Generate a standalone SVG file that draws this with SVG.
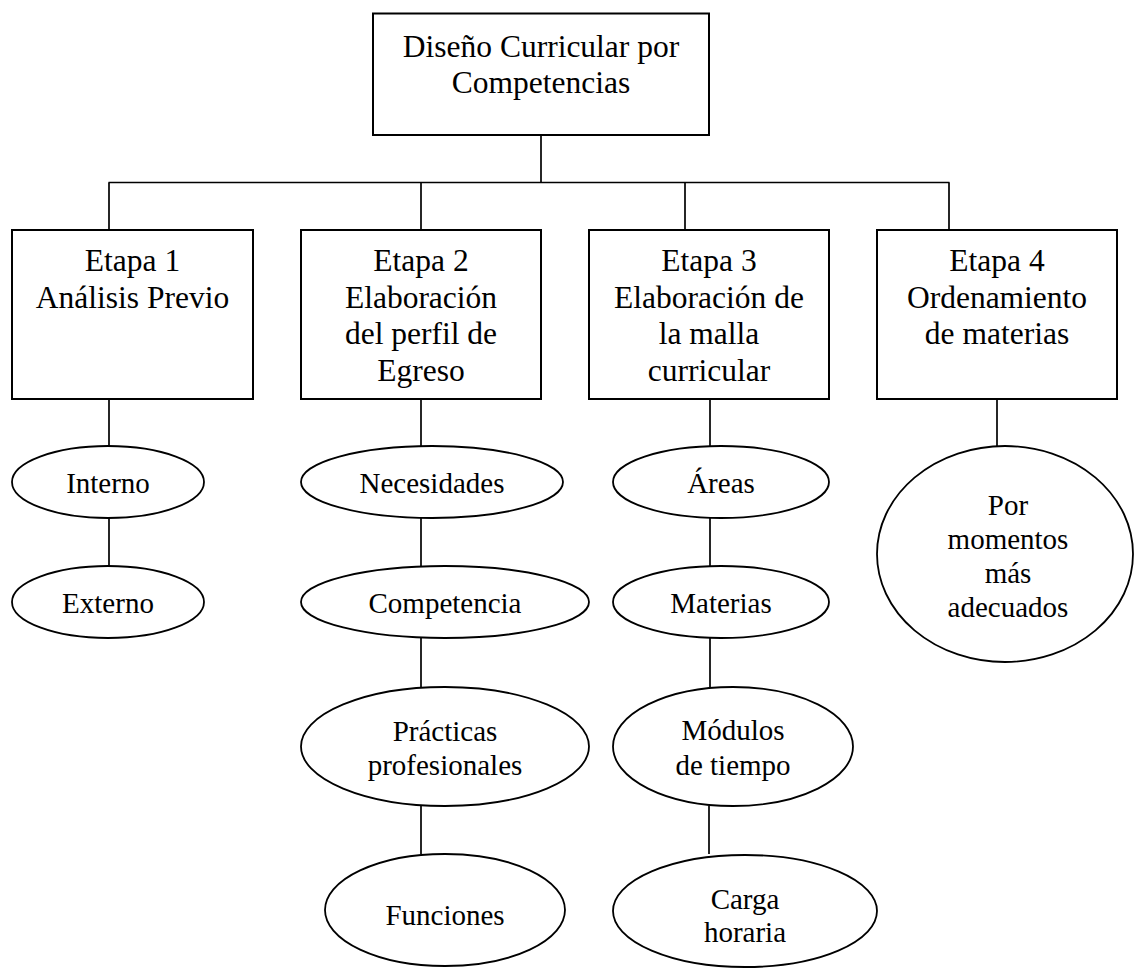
<svg xmlns="http://www.w3.org/2000/svg" width="1134" height="968" viewBox="0 0 1134 968" font-family="'Liberation Serif', 'Times New Roman', Tinos, 'DejaVu Serif', serif">
<style>
.n rect, .n ellipse { fill: #fff; stroke: #000; stroke-width: 2; }
.n ellipse { stroke-width: 1.8; }
.c line { stroke: #000; stroke-width: 1.7; }
text { font-family: 'Liberation Serif', 'Times New Roman', Tinos, 'DejaVu Serif', serif; fill: #000; text-anchor: middle; }
.b { font-size: 31.5px; }
.e { font-size: 29px; }
</style>
<rect width="1134" height="968" style="fill:#fff;stroke:none"/>
<g class="c" id="connectors">
<line x1="541" y1="135" x2="541" y2="182.5"/>
<line x1="108.5" y1="182.5" x2="949.5" y2="182.5"/>
<line x1="109" y1="182.5" x2="109" y2="230"/>
<line x1="421" y1="182.5" x2="421" y2="230"/>
<line x1="685" y1="182.5" x2="685" y2="230"/>
<line x1="949" y1="182.5" x2="949" y2="230"/>
<line x1="109" y1="399" x2="109" y2="446"/>
<line x1="109" y1="518" x2="109" y2="566"/>
<line x1="421" y1="399" x2="421" y2="446"/>
<line x1="421" y1="518" x2="421" y2="566"/>
<line x1="421" y1="638" x2="421" y2="687"/>
<line x1="421" y1="806" x2="421" y2="854"/>
<line x1="710" y1="399" x2="710" y2="446"/>
<line x1="710" y1="518" x2="710" y2="566"/>
<line x1="710" y1="638" x2="710" y2="687"/>
<line x1="709" y1="806" x2="709" y2="854"/>
<line x1="997" y1="399" x2="997" y2="446"/>
</g>
<g class="n" id="root">
<rect x="373" y="13.5" width="336" height="121.5"/>
<text class="b" x="541" y="57">Diseño Curricular por</text>
<text class="b" x="541" y="93">Competencias</text>
</g>
<g class="n" id="etapa1">
<rect x="12" y="230" width="241" height="169"/>
<text class="b" x="132.5" y="271">Etapa 1</text>
<text class="b" x="132.5" y="308">Análisis Previo</text>
</g>
<g class="n" id="etapa2">
<rect x="301" y="230" width="240" height="169"/>
<text class="b" x="421" y="271">Etapa 2</text>
<text class="b" x="421" y="308">Elaboración</text>
<text class="b" x="421" y="344">del perfil de</text>
<text class="b" x="421" y="381">Egreso</text>
</g>
<g class="n" id="etapa3">
<rect x="589" y="230" width="240" height="169"/>
<text class="b" x="709" y="271">Etapa 3</text>
<text class="b" x="709" y="308">Elaboración de</text>
<text class="b" x="709" y="344">la malla</text>
<text class="b" x="709" y="381">curricular</text>
</g>
<g class="n" id="etapa4">
<rect x="877" y="230" width="240" height="169"/>
<text class="b" x="997" y="271">Etapa 4</text>
<text class="b" x="997" y="308">Ordenamiento</text>
<text class="b" x="997" y="344">de materias</text>
</g>
<g class="n" id="interno">
<ellipse cx="108" cy="482" rx="96" ry="36"/>
<text class="e" x="108" y="493">Interno</text>
</g>
<g class="n" id="externo">
<ellipse cx="108" cy="602" rx="96" ry="36"/>
<text class="e" x="108" y="613">Externo</text>
</g>
<g class="n" id="necesidades">
<ellipse cx="432" cy="482" rx="131" ry="36"/>
<text class="e" x="432" y="493">Necesidades</text>
</g>
<g class="n" id="competencia">
<ellipse cx="445" cy="602" rx="144" ry="36"/>
<text class="e" x="445" y="613">Competencia</text>
</g>
<g class="n" id="practicas">
<ellipse cx="445" cy="746.5" rx="144" ry="59.5"/>
<text class="e" x="445" y="741">Prácticas</text>
<text class="e" x="445" y="775">profesionales</text>
</g>
<g class="n" id="funciones">
<ellipse cx="445" cy="910" rx="120" ry="56"/>
<text class="e" x="445" y="925">Funciones</text>
</g>
<g class="n" id="areas">
<ellipse cx="721" cy="482" rx="108" ry="36"/>
<text class="e" x="721" y="493">Áreas</text>
</g>
<g class="n" id="materias">
<ellipse cx="721" cy="602" rx="108" ry="36"/>
<text class="e" x="721" y="613">Materias</text>
</g>
<g class="n" id="modulos">
<ellipse cx="733" cy="746.5" rx="120" ry="59.5"/>
<text class="e" x="733" y="740">Módulos</text>
<text class="e" x="733" y="775">de tiempo</text>
</g>
<g class="n" id="carga">
<ellipse cx="745" cy="911" rx="132" ry="56"/>
<text class="e" x="745" y="909">Carga</text>
<text class="e" x="745" y="942">horaria</text>
</g>
<g class="n" id="momentos">
<ellipse cx="1005" cy="554" rx="128" ry="108"/>
<text class="e" x="1008" y="515">Por</text>
<text class="e" x="1008" y="549">momentos</text>
<text class="e" x="1008" y="583">más</text>
<text class="e" x="1008" y="617">adecuados</text>
</g>
</svg>
